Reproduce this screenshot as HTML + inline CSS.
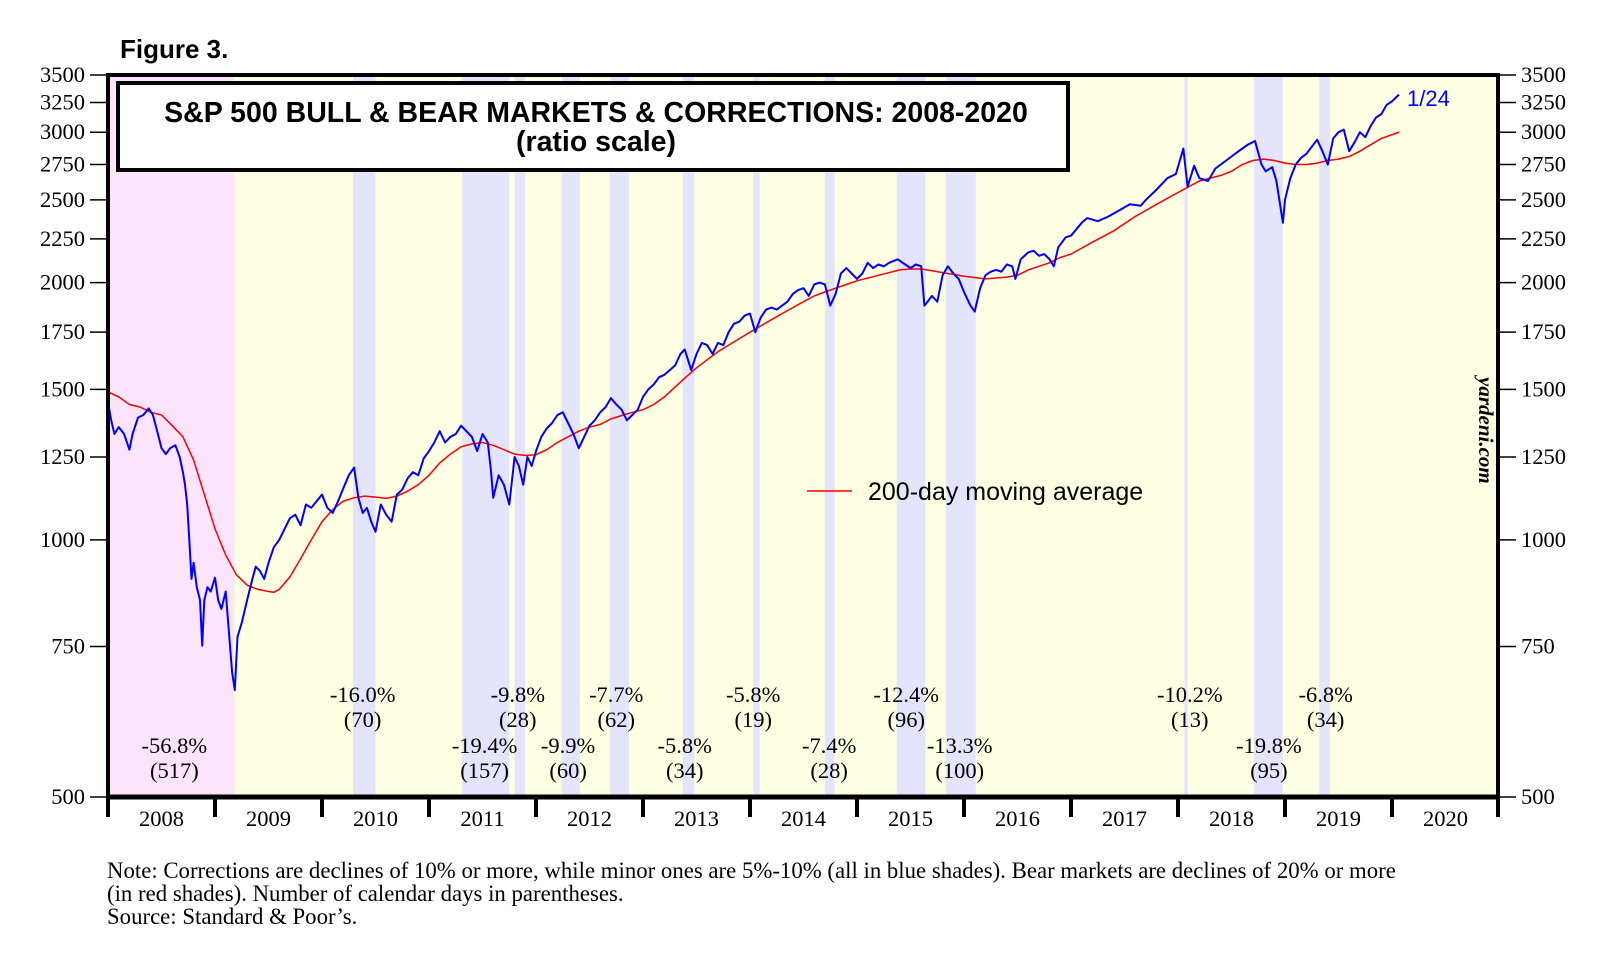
<!DOCTYPE html>
<html>
<head>
<meta charset="utf-8">
<style>
html,body{margin:0;padding:0;background:#fff;}
body{width:1610px;height:967px;overflow:hidden;position:relative;}
svg{position:absolute;left:0;top:0;}
.serif{font-family:"Liberation Serif",serif;}
.sans{font-family:"Liberation Sans",sans-serif;}
</style>
</head>
<body>
<svg id="chart" width="1610" height="967" viewBox="0 0 1610 967">
  <text x="120" y="58" class="sans" font-size="26" font-weight="bold">Figure 3.</text>
  <g id="bg"></g>
  <g id="bands"></g>
  <g id="lines" clip-path="url(#clip)"></g>
  <g id="annots"></g>
  <g id="axes"></g>
  <defs><clipPath id="clip"><rect x="108" y="75" width="1390" height="722"/></clipPath></defs>
  <g>
    <rect x="118" y="83" width="950" height="87" fill="#fff" stroke="#000" stroke-width="4"/>
    <text x="596" y="122" text-anchor="middle" class="sans" font-size="28.5" font-weight="bold">S&amp;P 500 BULL &amp; BEAR MARKETS &amp; CORRECTIONS: 2008-2020</text>
    <text x="596" y="151" text-anchor="middle" class="sans" font-size="28.5" font-weight="bold">(ratio scale)</text>
  </g>
  <g>
    <line x1="807" y1="491" x2="852" y2="491" stroke="#f00" stroke-width="1.5"/>
    <text x="868" y="500" class="sans" font-size="25">200-day moving average</text>
  </g>
  <text x="0" y="0" transform="translate(1479,377) rotate(90)" class="serif" font-size="21" font-weight="bold" font-style="italic">yardeni.com</text>
  <text x="1407" y="106" class="sans" font-size="22" fill="#0000ff">1/24</text>
  <g class="serif" font-size="22.8">
    <text x="107" y="878">Note: Corrections are declines of 10% or more, while minor ones are 5%-10% (all in blue shades).  Bear markets are declines of 20% or more</text>
    <text x="107" y="901">(in red shades). Number of calendar days in parentheses.</text>
    <text x="107" y="924">Source: Standard &amp; Poor’s.</text>
  </g>
</svg>
<script>
const yTicks=[500,750,1000,1250,1500,1750,2000,2250,2500,2750,3000,3250,3500];
const years=[2008,2009,2010,2011,2012,2013,2014,2015,2016,2017,2018,2019,2020];
const bearBands=[[2008.0,2009.18]];
const corrStart=[2010.29,2011.31,2011.80,2012.24,2012.69,2013.37,2014.03,2014.70,2015.37,2015.83,2018.06,2018.71,2019.32];
const corrEnd=[2010.50,2011.75,2011.90,2012.41,2012.87,2013.48,2014.09,2014.79,2015.64,2016.11,2018.09,2018.98,2019.42];
const annDates=[2008.62,2010.38,2011.52,2011.83,2012.30,2012.75,2013.39,2014.03,2014.74,2015.46,2015.96,2018.11,2018.85,2019.38];
const annPct=["-56.8%","-16.0%","-19.4%","-9.8%","-9.9%","-7.7%","-5.8%","-5.8%","-7.4%","-12.4%","-13.3%","-10.2%","-19.8%","-6.8%"];
const annDays=["(517)","(70)","(157)","(28)","(60)","(62)","(34)","(19)","(28)","(96)","(100)","(13)","(95)","(34)"];
const annRow=[1,0,1,0,1,0,1,0,1,0,1,0,1,0];
const spDates=[2008.0,2008.03,2008.06,2008.1,2008.15,2008.2,2008.23,2008.28,2008.33,2008.38,2008.42,2008.46,2008.5,2008.54,2008.58,2008.63,2008.67,2008.7,2008.72,2008.74,2008.76,2008.78,2008.8,2008.83,2008.86,2008.88,2008.9,2008.93,2008.96,2009.0,2009.03,2009.06,2009.1,2009.13,2009.16,2009.185,2009.21,2009.25,2009.3,2009.35,2009.38,2009.42,2009.46,2009.5,2009.55,2009.6,2009.65,2009.7,2009.75,2009.8,2009.85,2009.9,2009.95,2010.0,2010.05,2010.1,2010.15,2010.2,2010.25,2010.3,2010.34,2010.38,2010.42,2010.46,2010.5,2010.55,2010.6,2010.65,2010.7,2010.75,2010.8,2010.85,2010.9,2010.95,2011.0,2011.05,2011.1,2011.15,2011.2,2011.25,2011.3,2011.35,2011.4,2011.45,2011.5,2011.55,2011.58,2011.6,2011.65,2011.7,2011.75,2011.8,2011.84,2011.88,2011.92,2011.96,2012.0,2012.05,2012.1,2012.15,2012.2,2012.25,2012.3,2012.35,2012.4,2012.45,2012.5,2012.55,2012.6,2012.65,2012.7,2012.75,2012.8,2012.85,2012.9,2012.95,2013.0,2013.05,2013.1,2013.15,2013.2,2013.25,2013.3,2013.35,2013.39,2013.45,2013.5,2013.55,2013.6,2013.65,2013.7,2013.75,2013.8,2013.85,2013.9,2013.95,2014.0,2014.05,2014.1,2014.15,2014.2,2014.25,2014.3,2014.35,2014.4,2014.45,2014.5,2014.55,2014.6,2014.65,2014.7,2014.75,2014.8,2014.85,2014.9,2014.95,2015.0,2015.05,2015.1,2015.15,2015.2,2015.25,2015.3,2015.38,2015.45,2015.5,2015.55,2015.6,2015.63,2015.66,2015.7,2015.75,2015.8,2015.85,2015.9,2015.95,2016.0,2016.06,2016.1,2016.15,2016.2,2016.25,2016.3,2016.35,2016.4,2016.45,2016.48,2016.53,2016.6,2016.65,2016.7,2016.75,2016.8,2016.84,2016.88,2016.95,2017.0,2017.1,2017.15,2017.25,2017.35,2017.45,2017.55,2017.65,2017.7,2017.8,2017.9,2017.98,2018.05,2018.09,2018.15,2018.2,2018.28,2018.35,2018.45,2018.55,2018.65,2018.72,2018.78,2018.82,2018.88,2018.92,2018.98,2019.0,2019.05,2019.1,2019.15,2019.2,2019.3,2019.35,2019.4,2019.45,2019.5,2019.55,2019.6,2019.65,2019.7,2019.75,2019.8,2019.85,2019.9,2019.95,2020.0,2020.065];
const spValues=[1447,1380,1330,1355,1330,1275,1330,1390,1400,1425,1400,1340,1280,1260,1280,1290,1250,1200,1160,1100,1000,900,940,880,850,752,850,880,870,903,850,830,870,780,700,667,770,800,850,900,930,920,900,940,980,1000,1030,1060,1070,1040,1100,1090,1110,1130,1090,1075,1110,1150,1190,1215,1120,1075,1090,1050,1022,1100,1070,1050,1130,1145,1180,1200,1190,1245,1270,1300,1340,1300,1320,1330,1360,1340,1320,1270,1330,1300,1200,1120,1190,1160,1100,1250,1220,1160,1250,1220,1270,1320,1350,1370,1400,1410,1370,1330,1280,1320,1360,1380,1410,1430,1465,1440,1420,1380,1400,1420,1470,1500,1520,1550,1560,1580,1600,1650,1670,1580,1650,1700,1690,1650,1700,1690,1750,1790,1800,1830,1840,1750,1820,1860,1870,1860,1880,1900,1940,1960,1970,1930,1990,2000,1990,1880,1940,2050,2080,2050,2020,2050,2110,2080,2100,2090,2110,2130,2100,2080,2100,2090,1880,1900,1930,1900,2040,2090,2050,2020,1950,1880,1850,1970,2040,2060,2070,2060,2100,2090,2020,2130,2170,2180,2150,2160,2130,2090,2200,2260,2270,2350,2380,2360,2390,2430,2470,2460,2500,2570,2650,2680,2870,2590,2740,2650,2630,2720,2780,2840,2900,2930,2750,2700,2730,2630,2350,2500,2650,2750,2800,2830,2940,2850,2750,2950,3000,3020,2850,2920,3000,2960,3050,3120,3150,3230,3260,3320];
const maDates=[2008.0,2008.1,2008.2,2008.3,2008.4,2008.5,2008.6,2008.7,2008.8,2008.9,2009.0,2009.1,2009.2,2009.3,2009.4,2009.5,2009.55,2009.6,2009.7,2009.8,2009.9,2010.0,2010.1,2010.2,2010.3,2010.4,2010.5,2010.6,2010.7,2010.8,2010.9,2011.0,2011.1,2011.2,2011.3,2011.4,2011.5,2011.6,2011.7,2011.8,2011.9,2012.0,2012.1,2012.2,2012.3,2012.4,2012.5,2012.6,2012.7,2012.8,2012.9,2013.0,2013.1,2013.2,2013.3,2013.4,2013.5,2013.6,2013.7,2013.8,2013.9,2014.0,2014.1,2014.2,2014.3,2014.4,2014.5,2014.6,2014.7,2014.8,2014.9,2015.0,2015.2,2015.4,2015.5,2015.6,2015.7,2015.8,2015.9,2016.0,2016.2,2016.4,2016.5,2016.6,2016.7,2016.8,2016.9,2017.0,2017.2,2017.4,2017.6,2017.8,2018.0,2018.2,2018.4,2018.5,2018.6,2018.7,2018.8,2018.9,2019.0,2019.1,2019.2,2019.3,2019.4,2019.5,2019.6,2019.7,2019.8,2019.9,2020.065];
const maValues=[1490,1470,1440,1430,1410,1400,1360,1320,1240,1130,1030,960,910,885,875,870,868,875,905,950,1000,1050,1085,1110,1120,1125,1122,1118,1125,1140,1160,1190,1230,1260,1285,1295,1300,1290,1275,1260,1255,1258,1275,1300,1320,1340,1355,1365,1385,1398,1410,1420,1440,1470,1510,1550,1590,1625,1660,1690,1720,1750,1780,1810,1840,1870,1900,1930,1950,1970,1990,2010,2040,2070,2075,2075,2065,2055,2045,2035,2020,2030,2040,2070,2090,2110,2140,2160,2230,2300,2390,2470,2550,2630,2670,2700,2750,2780,2790,2780,2760,2750,2750,2760,2780,2790,2810,2850,2900,2950,3000];

const NS="http://www.w3.org/2000/svg";
const L=108,R=1498,T=75,B=797;
const X=t=>L+(t-2008)*107;
const Y=v=>T+(B-T)*Math.log(3500/v)/Math.log(3500/500);
function mk(tag,attrs,parent){const e=document.createElementNS(NS,tag);for(const k in attrs)e.setAttribute(k,attrs[k]);parent.appendChild(e);return e;}

const bg=document.getElementById('bg');
const bgr=mk('rect',{x:L,y:T,width:R-L,height:B-T,fill:'#ffffe3'},bg);



const bands=document.getElementById('bands');
bearBands.forEach(b=>{
  const r=mk('rect',{x:X(b[0]),y:T,width:X(b[1])-X(b[0]),height:B-T,fill:'#fce4fc'},bands);
  
  
});
corrStart.forEach((s,i)=>{
  const r=mk('rect',{x:X(s),y:T,width:X(corrEnd[i])-X(s),height:B-T,fill:'#e4e4fc'},bands);
  
  
});

const lines=document.getElementById('lines');
const maP=maDates.map((t,i)=>(i?'L':'M')+X(t).toFixed(1)+' '+Y(maValues[i]).toFixed(1)).join(' ');
const ma=mk('path',{d:maP,fill:'none',stroke:'#ff0000','stroke-width':1.5},lines);


const spP=spDates.map((t,i)=>(i?'L':'M')+X(t).toFixed(1)+' '+Y(spValues[i]).toFixed(1)).join(' ');
const sp=mk('path',{d:spP,fill:'none',stroke:'#0000ff','stroke-width':2,'stroke-linejoin':'round'},lines);



const annots=document.getElementById('annots');
annDates.forEach((t,i)=>{
  const y0=annRow[i]?753:702;
  const a=mk('text',{x:X(t),y:y0,'text-anchor':'middle','font-size':22.5,'font-family':'Liberation Serif, serif'},annots);
  a.textContent=annPct[i];
  
  
  const d=mk('text',{x:X(t),y:y0+25,'text-anchor':'middle','font-size':22.5,'font-family':'Liberation Serif, serif'},annots);
  d.textContent=annDays[i];
  
  
});

const axes=document.getElementById('axes');
const fr=mk('rect',{x:L,y:T,width:R-L,height:B-T,fill:'none',stroke:'#000','stroke-width':4},axes);


const bl=mk('line',{x1:L-2,y1:B,x2:R+2,y2:B,stroke:'#000','stroke-width':5},axes);


yTicks.forEach(v=>{
  const y=Y(v);
  const lt=mk('line',{x1:90,y1:y,x2:L,y2:y,stroke:'#000','stroke-width':1.5},axes);
  
  
  const rt=mk('line',{x1:R,y1:y,x2:1516,y2:y,stroke:'#000','stroke-width':1.5},axes);
  
  
  const ll=mk('text',{x:85,y:y+7,'text-anchor':'end','font-size':22.5,'font-family':'Liberation Serif, serif'},axes);
  ll.textContent=v;
  
  
  const rl=mk('text',{x:1521,y:y+7,'font-size':22.5,'font-family':'Liberation Serif, serif'},axes);
  rl.textContent=v;
  
  
});
years.forEach((yr,i)=>{
  const x=X(yr);
  const tk=mk('line',{x1:x,y1:B,x2:x,y2:817,stroke:'#000','stroke-width':4},axes);
  
  
  const lb=mk('text',{x:X(yr+0.5),y:826,'text-anchor':'middle','font-size':22.5,'font-family':'Liberation Serif, serif'},axes);
  lb.textContent=yr;
  
  
});
const endTk=mk('line',{x1:R,y1:B,x2:R,y2:817,stroke:'#000','stroke-width':4},axes);


</script>
</body>
</html>
